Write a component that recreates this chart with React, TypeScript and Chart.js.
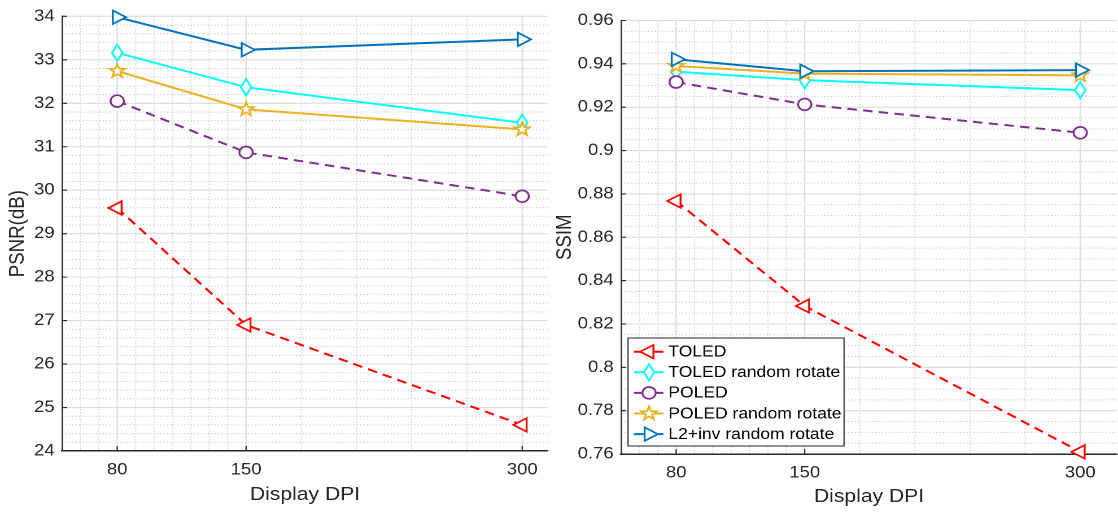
import React, { useEffect, useRef } from 'react';
import { Chart, registerables } from 'chart.js';

Chart.register(...registerables);

const FONT = "'Liberation Sans', Arial, Helvetica, sans-serif";
const INK = '#262626';

// ---- categories / ticks ----
const dpiValues = [80, 150, 300];
const xTickLabels = ['80', '150', '300'];
const xMinorTicks = [60, 70, 90, 100, 110, 120, 130, 140, 180, 210, 240, 270];

const psnrTicks = [24, 25, 26, 27, 28, 29, 30, 31, 32, 33, 34];
const psnrTickLabels = ['24', '25', '26', '27', '28', '29', '30', '31', '32', '33', '34'];
const ssimTicks = [0.76, 0.78, 0.8, 0.82, 0.84, 0.86, 0.88, 0.9, 0.92, 0.94, 0.96];
const ssimTickLabels = ['0.76', '0.78', '0.8', '0.82', '0.84', '0.86', '0.88', '0.9', '0.92', '0.94', '0.96'];

// ---- series ----
const seriesNames = ['TOLED', 'TOLED random rotate', 'POLED', 'POLED random rotate', 'L2+inv random rotate'];
const seriesColors = ['#FF0000', '#00FFFF', '#7E2F8E', '#EDB120', '#0072BD'];
const seriesMarkers = ['triL', 'diamond', 'circle', 'star', 'triR'];
const seriesDashed = [true, false, true, false, false];

const psnrToled = [29.59, 26.9, 24.6];
const psnrToledRot = [33.16, 32.37, 31.55];
const psnrPoled = [32.05, 30.87, 29.86];
const psnrPoledRot = [32.74, 31.86, 31.4];
const psnrL2inv = [33.98, 33.23, 33.47];

const ssimToled = [0.8767, 0.8283, 0.761];
const ssimToledRot = [0.9364, 0.9325, 0.9279];
const ssimPoled = [0.9316, 0.9213, 0.9082];
const ssimPoledRot = [0.939, 0.9355, 0.9347];
const ssimL2inv = [0.9421, 0.9366, 0.9371];

const DASH = [8.5, 5.5];

type Spec = {
  cssLeft: number; cssW: number; innerW: number;
  left: number; right: number; top: number; bottom: number;
  xMin: number; xMax: number; yMin: number; yMax: number;
  yTicks: number[]; yLabels: string[]; yMinorDiv: number;
  yTitle: string; yTitlePad: number; xTitlePad: number;
  series: number[][]; legend: boolean;
};

const leftSpec: Spec = {
  cssLeft: 0, cssW: 550, innerW: 487,
  left: 54.9, right: 485.2, top: 16, bottom: 451,
  xMin: 50, xMax: 314, yMin: 24, yMax: 34,
  yTicks: psnrTicks, yLabels: psnrTickLabels, yMinorDiv: 5,
  yTitle: 'PSNR(dB)', yTitlePad: 4.7, xTitlePad: 5.8,
  series: [psnrToled, psnrToledRot, psnrPoled, psnrPoledRot, psnrL2inv],
  legend: false,
};

const rightSpec: Spec = {
  cssLeft: 550, cssW: 568, innerW: 503,
  left: 62.9, right: 502.1, top: 20.5, bottom: 454,
  xMin: 50, xMax: 320, yMin: 0.76, yMax: 0.96,
  yTicks: ssimTicks, yLabels: ssimTickLabels, yMinorDiv: 4,
  yTitle: 'SSIM', yTitlePad: 2.1, xTitlePad: 4.1,
  series: [ssimToled, ssimToledRot, ssimPoled, ssimPoledRot, ssimL2inv],
  legend: true,
};

function minorY(spec: Spec): number[] {
  const out: number[] = [];
  for (let i = 0; i < spec.yTicks.length - 1; i++) {
    const a = spec.yTicks[i];
    const b = spec.yTicks[i + 1];
    for (let k = 1; k < spec.yMinorDiv; k++) out.push(a + ((b - a) * k) / spec.yMinorDiv);
  }
  return out;
}

function drawMarker(ctx: CanvasRenderingContext2D, shape: string, x: number, y: number, color: string) {
  ctx.save();
  ctx.setLineDash([]);
  ctx.strokeStyle = color;
  ctx.fillStyle = '#ffffff';
  ctx.lineWidth = 1.7;
  ctx.lineJoin = 'miter';
  ctx.beginPath();
  if (shape === 'circle') {
    ctx.arc(x, y, 5.9, 0, Math.PI * 2);
  } else if (shape === 'triL' || shape === 'triR') {
    const r = 7.8;
    const d = shape === 'triL' ? -1 : 1;
    ctx.moveTo(x + d * r, y);
    ctx.lineTo(x - (d * r) / 2, y - r * 0.866);
    ctx.lineTo(x - (d * r) / 2, y + r * 0.866);
    ctx.closePath();
  } else if (shape === 'diamond') {
    ctx.moveTo(x, y - 8.2);
    ctx.lineTo(x + 4.6, y);
    ctx.lineTo(x, y + 8.2);
    ctx.lineTo(x - 4.6, y);
    ctx.closePath();
  } else if (shape === 'star') {
    const ro = 7.2;
    const ri = 2.9;
    for (let k = 0; k < 10; k++) {
      const r = k % 2 === 0 ? ro : ri;
      const ang = -Math.PI / 2 + (k * Math.PI) / 5;
      const px = x + r * Math.cos(ang);
      const py = y + r * Math.sin(ang);
      if (k === 0) ctx.moveTo(px, py);
      else ctx.lineTo(px, py);
    }
    ctx.closePath();
  }
  ctx.fill();
  ctx.stroke();
  ctx.restore();
}

function makePlugins(spec: Spec) {
  const grid = {
    id: 'matlabGrid',
    beforeDraw(chart: any) {
      const { ctx, chartArea: a } = chart;
      const xs = chart.scales.x;
      const ys = chart.scales.y;
      ctx.save();
      // minor dotted grid
      ctx.lineWidth = 1;
      ctx.strokeStyle = '#c2c2c2';
      ctx.setLineDash([1, 2]);
      ctx.beginPath();
      for (const v of xMinorTicks) {
        const px = xs.getPixelForValue(v);
        ctx.moveTo(px, a.top);
        ctx.lineTo(px, a.bottom);
      }
      for (const v of minorY(spec)) {
        const py = ys.getPixelForValue(v);
        ctx.moveTo(a.left, py);
        ctx.lineTo(a.right, py);
      }
      ctx.stroke();
      // major solid grid
      ctx.setLineDash([]);
      ctx.strokeStyle = '#dcdcdc';
      ctx.lineWidth = 1.1;
      ctx.beginPath();
      for (const v of dpiValues) {
        const px = xs.getPixelForValue(v);
        ctx.moveTo(px, a.top);
        ctx.lineTo(px, a.bottom);
      }
      for (const v of spec.yTicks) {
        if (v === spec.yMin) continue;
        const py = ys.getPixelForValue(v);
        ctx.moveTo(a.left, py);
        ctx.lineTo(a.right, py);
      }
      ctx.stroke();
      ctx.restore();
    },
    beforeDatasetsDraw(chart: any) {
      const { ctx, chartArea: a } = chart;
      const xs = chart.scales.x;
      const ys = chart.scales.y;
      ctx.save();
      ctx.strokeStyle = INK;
      ctx.lineWidth = 1.1;
      ctx.beginPath();
      for (const v of dpiValues) {
        const px = xs.getPixelForValue(v);
        ctx.moveTo(px, a.bottom);
        ctx.lineTo(px, a.bottom - 5);
      }
      for (const v of spec.yTicks) {
        const py = ys.getPixelForValue(v);
        ctx.moveTo(a.left, py);
        ctx.lineTo(a.left + 4.5, py);
      }
      ctx.stroke();
      ctx.restore();
    },
  };

  const markers = {
    id: 'matlabMarkers',
    afterDatasetDraw(chart: any, args: any) {
      const i = args.index;
      const meta = args.meta;
      const ctx = chart.ctx;
      for (const el of meta.data) drawMarker(ctx, seriesMarkers[i], el.x, el.y, seriesColors[i]);
    },
  };

  const legend = {
    id: 'matlabLegend',
    afterDraw(chart: any) {
      if (!spec.legend) return;
      const { ctx, chartArea: a } = chart;
      const w = 191.3;
      const h = 108;
      const left = a.left + 6.2;
      const top = a.bottom - 8 - h;
      ctx.save();
      ctx.fillStyle = '#ffffff';
      ctx.fillRect(left, top, w, h);
      ctx.strokeStyle = INK;
      ctx.lineWidth = 1;
      ctx.strokeRect(left, top, w, h);
      ctx.font = `15.5px ${FONT}`;
      ctx.textBaseline = 'middle';
      ctx.textAlign = 'left';
      seriesNames.forEach((name, i) => {
        const cy = top + 13.7 + i * 20.6;
        ctx.strokeStyle = seriesColors[i];
        ctx.lineWidth = 2;
        ctx.setLineDash([]);
        ctx.beginPath();
        ctx.moveTo(left + 5.3, cy);
        ctx.lineTo(left + 31.3, cy);
        ctx.stroke();
        drawMarker(ctx, seriesMarkers[i], left + 18.6, cy, seriesColors[i]);
        ctx.fillStyle = '#000000';
        ctx.fillText(name, left + 35.7, cy + 0.5);
      });
      ctx.restore();
    },
  };
  return [grid, markers, legend];
}

function buildConfig(spec: Spec): any {
  const datasets = spec.series.map((vals, i) => ({
    label: seriesNames[i],
    data: dpiValues.map((x, j) => ({ x, y: vals[j] })),
    borderColor: seriesColors[i],
    backgroundColor: seriesColors[i],
    borderWidth: 2,
    borderDash: seriesDashed[i] ? DASH : [],
    pointRadius: 0,
    pointHoverRadius: 0,
    tension: 0,
    fill: false,
    order: spec.series.length - i,
  }));

  const tickFont = { family: FONT, size: 16.4 };
  const titleFont = { family: FONT, size: 18.7 };

  return {
    type: 'line',
    data: { datasets },
    plugins: makePlugins(spec),
    options: {
      animation: false,
      responsive: false,
      devicePixelRatio: 2,
      events: [],
      layout: { padding: { left: 0, top: spec.top, right: spec.innerW - spec.right, bottom: 0 } },
      plugins: {
        legend: { display: false },
        tooltip: { enabled: false },
        title: { display: false },
      },
      scales: {
        x: {
          type: 'linear',
          position: 'bottom',
          min: spec.xMin,
          max: spec.xMax,
          afterBuildTicks: (s: any) => {
            s.ticks = dpiValues.map((v) => ({ value: v }));
          },
          afterFit: (s: any) => {
            s.height = 512 - spec.bottom;
          },
          ticks: {
            autoSkip: false,
            maxRotation: 0,
            padding: 9,
            color: INK,
            font: tickFont,
            callback: (v: number) => {
              const i = dpiValues.indexOf(v);
              return i >= 0 ? xTickLabels[i] : '';
            },
          },
          grid: { display: false, drawTicks: false, tickLength: 0 },
          border: { display: true, color: INK, width: 1.5 },
          title: {
            display: true,
            text: 'Display DPI',
            color: INK,
            font: titleFont,
            padding: { top: 0, bottom: spec.xTitlePad },
          },
        },
        y: {
          type: 'linear',
          position: 'left',
          min: spec.yMin,
          max: spec.yMax,
          afterBuildTicks: (s: any) => {
            s.ticks = spec.yTicks.map((v) => ({ value: v }));
          },
          afterFit: (s: any) => {
            s.width = spec.left;
          },
          ticks: {
            autoSkip: false,
            padding: 6.5,
            color: INK,
            font: tickFont,
            callback: (v: number) => {
              const i = spec.yTicks.indexOf(v);
              return i >= 0 ? spec.yLabels[i] : '';
            },
          },
          grid: { display: false, drawTicks: false, tickLength: 0 },
          border: { display: true, color: INK, width: 1.2 },
          title: {
            display: true,
            text: spec.yTitle,
            color: INK,
            font: titleFont,
            padding: { top: spec.yTitlePad, bottom: 0 },
          },
        },
      },
    },
  };
}

function MatlabAxes({ spec }: { spec: Spec }) {
  const ref = useRef<HTMLCanvasElement>(null);
  useEffect(() => {
    const chart = new Chart(ref.current as HTMLCanvasElement, buildConfig(spec));
    return () => chart.destroy();
  }, [spec]);
  return (
    <canvas
      ref={ref}
      width={spec.innerW}
      height={512}
      style={{ position: 'absolute', left: spec.cssLeft, top: 0, width: spec.cssW, height: 512 }}
    />
  );
}

export default function App() {
  return (
    <div style={{ position: 'relative', width: 1118, height: 512, overflow: 'hidden', background: '#ffffff' }}>
      <style>{'html,body{margin:0;padding:0;background:#ffffff;}'}</style>
      <MatlabAxes spec={leftSpec} />
      <MatlabAxes spec={rightSpec} />
    </div>
  );
}
